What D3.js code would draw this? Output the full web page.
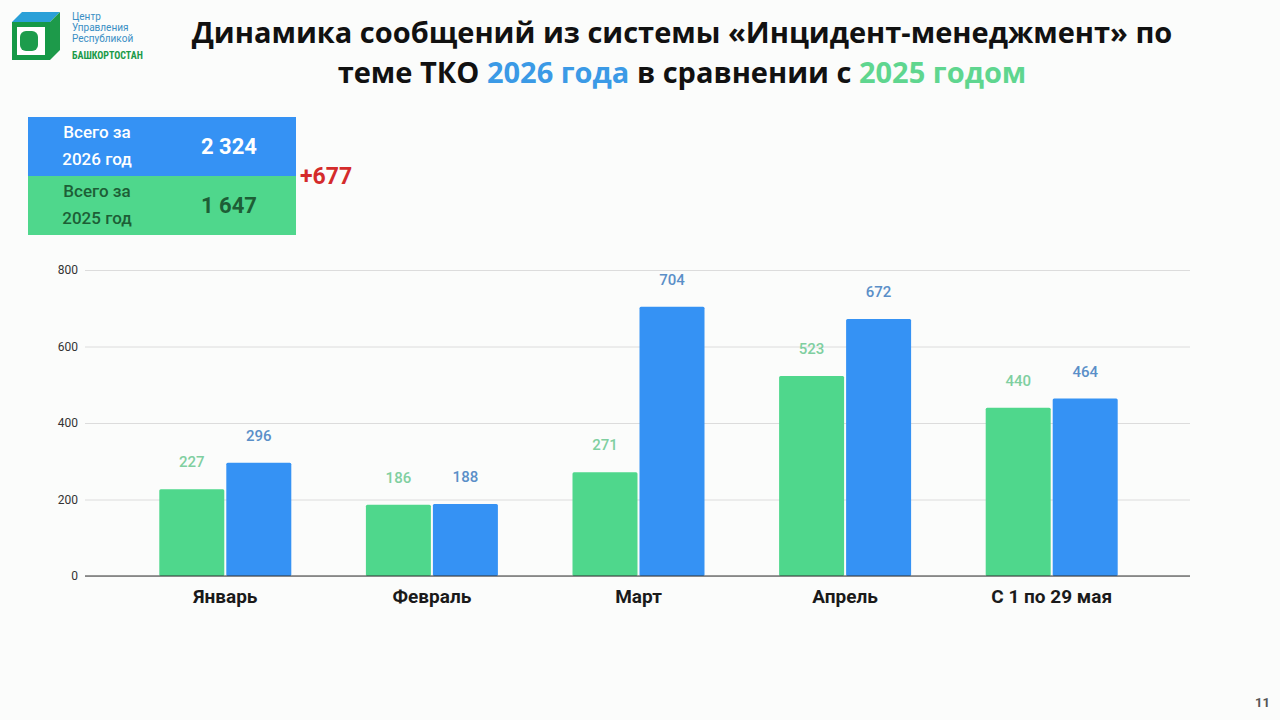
<!DOCTYPE html>
<html>
<head>
<meta charset="utf-8">
<script src="https://cdn.jsdelivr.net/npm/d3@7"></script>
<style>
  body { margin: 0; background: #fbfcfb; }
  svg { display: block; }
</style>
</head>
<body>
<svg width="1280" height="720"></svg>
<script>
// данные графика
const months = ["Январь", "Февраль", "Март", "Апрель", "С 1 по 29 мая"];
const values2025 = [227, 186, 271, 523, 440];
const values2026 = [296, 188, 704, 672, 464];
const yTicks = [0, 200, 400, 600, 800];

// итоговая таблица
const totalLabels = ["Всего за|2026 год", "Всего за|2025 год"];
const totalValues = ["2 324", "1 647"];
const totalDiff = "+677";

const green = "#4fd78c", blue = "#3592f4";

const svg = d3.select("svg");

// фон
svg.append("rect").attr("width", 1280).attr("height", 720).attr("fill", "#fbfcfb");

// логотип
const logo = svg.append("g").attr("transform", "translate(12,12)");
logo.append("path").attr("d", "M0,10 L10,0 L48,0 L38,10 Z").attr("fill", "#2aa0d8");
logo.append("path").attr("d", "M38,10 L48,0 L48,38 L38,48 Z").attr("fill", "#1d9a4a");
logo.append("rect").attr("x", 0).attr("y", 10).attr("width", 38).attr("height", 38).attr("fill", "#159947");
logo.append("rect").attr("x", 5).attr("y", 15).attr("width", 28).attr("height", 28).attr("fill", "#ffffff");
logo.append("rect").attr("x", 8).attr("y", 19).attr("width", 18).attr("height", 20).attr("fill", "#1c9c4c").attr("rx", 6);
const logoText = ["Центр", "Управления", "Республикой"];
logoText.forEach((t, i) => {
  logo.append("text").attr("x", 60).attr("y", 8 + i * 11)
    .attr("font-family", "Roboto, sans-serif").attr("font-size", 10)
    .attr("fill", "#3a8fc4").text(t);
});
logo.append("text").attr("x", 60).attr("y", 47)
  .attr("font-family", "Roboto Condensed, Roboto, sans-serif").attr("font-size", 10)
  .attr("font-weight", 700).attr("fill", "#1a9a48").text("БАШКОРТОСТАН");

// заголовок
const title = svg.append("text")
  .attr("text-anchor", "middle")
  .attr("font-family", "'Open Sans', sans-serif")
  .attr("font-weight", 700)
  .attr("font-size", 29)
  .attr("fill", "#111");
title.append("tspan").attr("x", 682).attr("y", 43)
  .text("Динамика сообщений из системы «Инцидент-менеджмент» по");
const t2 = title.append("tspan").attr("x", 682).attr("y", 83);
t2.append("tspan").text("теме ТКО ");
t2.append("tspan").attr("fill", "#3b9ae6").text("2026 года");
t2.append("tspan").text(" в сравнении с ");
t2.append("tspan").attr("fill", "#5fd68f").text("2025 годом");

// таблица итогов
const tbl = svg.append("g");
const rowColors = [blue, green];
const rowText = ["#ffffff", "#1d5e36"];
totalLabels.forEach((lab, i) => {
  const y0 = 117 + i * 59;
  tbl.append("rect").attr("x", 28).attr("y", y0).attr("width", 268).attr("height", 59)
    .attr("fill", rowColors[i]);
  const parts = lab.split("|");
  parts.forEach((p, j) => {
    tbl.append("text").attr("x", 97).attr("y", y0 + 21 + j * 27)
      .attr("text-anchor", "middle")
      .attr("font-family", "Roboto, sans-serif").attr("font-weight", 500)
      .attr("font-size", 17).attr("fill", rowText[i]).text(p);
  });
  tbl.append("text").attr("x", 229).attr("y", y0 + 37)
    .attr("text-anchor", "middle")
    .attr("font-family", "Roboto, sans-serif").attr("font-weight", 700)
    .attr("font-size", 22).attr("fill", rowText[i]).text(totalValues[i]);
});
tbl.append("text").attr("x", 300).attr("y", 184)
  .attr("font-family", "Roboto, sans-serif").attr("font-weight", 700)
  .attr("font-size", 23).attr("fill", "#d42b2b").text(totalDiff);

// область графика
const attr_area = { left: 85, right: 1190, top: 270, bottom: 576 };

const scaleY = d3.scaleLinear()
  .domain([0, 800])
  .range([attr_area.bottom, attr_area.top]);

const scaleX = d3.scaleBand()
  .domain(months)
  .range([122, 1155])
  .paddingInner(0)
  .paddingOuter(0);

const scaleSeries = d3.scaleBand()
  .domain(["2025", "2026"])
  .range([0, 132])
  .paddingInner(0.03);

// сетка
const axisY = d3.axisLeft(scaleY)
  .tickValues(yTicks)
  .tickSize(-(attr_area.right - attr_area.left))
  .tickPadding(7);

const gy = svg.append("g")
  .attr("transform", `translate(${attr_area.left},0)`)
  .call(axisY);
gy.select(".domain").remove();
gy.selectAll(".tick line").attr("stroke", "#dcdcdc").attr("stroke-width", 1);
gy.selectAll(".tick text")
  .attr("font-family", "Roboto, sans-serif").attr("font-size", 12).attr("fill", "#333");

// столбцы
const groups = svg.append("g").selectAll("g")
  .data(months.map((m, i) => ({ m, v: [values2025[i], values2026[i]] })))
  .join("g")
  .attr("transform", d => `translate(${scaleX(d.m) + scaleX.bandwidth() / 2 - 66},0)`);

const seriesColor = [green, blue];
const labelColor = ["#7fcfa0", "#5a8fc8"];

groups.selectAll("rect")
  .data(d => d.v.map((v, k) => ({ v, k })))
  .join("rect")
  .attr("x", d => scaleSeries(d.k == 0 ? "2025" : "2026"))
  .attr("width", scaleSeries.bandwidth())
  .attr("y", d => scaleY(d.v))
  .attr("height", d => scaleY(0) - scaleY(d.v))
  .attr("rx", 1.5)
  .attr("fill", d => seriesColor[d.k]);

groups.selectAll("text.val")
  .data(d => d.v.map((v, k) => ({ v, k })))
  .join("text")
  .attr("class", "val")
  .attr("x", d => scaleSeries(d.k == 0 ? "2025" : "2026") + scaleSeries.bandwidth() / 2)
  .attr("y", d => scaleY(d.v) - 22)
  .attr("text-anchor", "middle")
  .attr("font-family", "Roboto, sans-serif")
  .attr("font-weight", 500)
  .attr("font-size", 15)
  .attr("fill", d => labelColor[d.k])
  .text(d => d.v);

// ось X
const axisX = d3.axisBottom(scaleX).tickSize(0).tickPadding(14);
const gx = svg.append("g")
  .attr("transform", `translate(0,${attr_area.bottom})`)
  .call(axisX);
gx.select(".domain").remove();
gx.selectAll(".tick text")
  .attr("font-family", "Roboto, sans-serif").attr("font-weight", 700)
  .attr("font-size", 19).attr("fill", "#1a1a1a");

svg.append("line")
  .attr("x1", attr_area.left).attr("x2", attr_area.right)
  .attr("y1", scaleY(0)).attr("y2", scaleY(0))
  .attr("stroke", "#333").attr("stroke-width", 1.2);

// номер слайда
svg.append("text").attr("x", 1270).attr("y", 707).attr("text-anchor", "end")
  .attr("font-family", "Roboto, sans-serif").attr("font-weight", 700)
  .attr("font-size", 13).attr("fill", "#555").text("11");
</script>
</body>
</html>
